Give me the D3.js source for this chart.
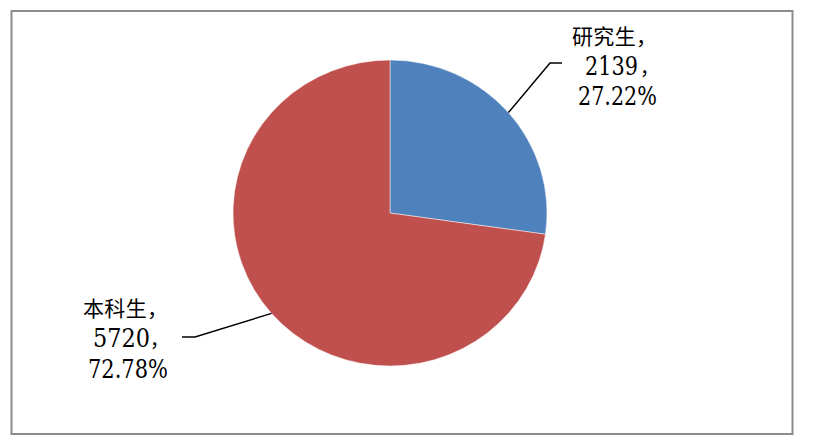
<!DOCTYPE html>
<html><head><meta charset="utf-8">
<script src="https://cdn.jsdelivr.net/npm/d3@7/dist/d3.min.js"></script>
<style>
html,body{margin:0;padding:0;background:#fff;}
svg{display:block;}
.lbl{font-family:"DejaVu Serif","Liberation Serif",serif;fill:#000;}
.cjk{font-family:"Noto Sans CJK SC","Noto Sans CJK JP",sans-serif;fill:#000;}
</style></head>
<body>
<svg id="chart" width="818" height="447"></svg>
<script>
const categories = ["研究生", "本科生"];
const values = [2139, 5720];
const percentLabels = ["27.22%", "72.78%"];
const colors = ["#4F81BD", "#C0504D"];

const svg = d3.select("#chart");
svg.append("rect").attr("x", 11.5).attr("y", 11).attr("width", 781).attr("height", 423)
  .attr("fill", "#fff").attr("stroke", "#8c8c8c").attr("stroke-width", 2);

const cx = 390, cy = 213, ry = 153, rx = 157;
const sx = rx / ry;
const pie = d3.pie().sort(null).value(d => d)(values);
const arc = d3.arc().innerRadius(0).outerRadius(ry);

const g = svg.append("g").attr("transform", `translate(${cx},${cy}) scale(${sx},1)`);
g.selectAll("path").data(pie).join("path")
  .attr("d", arc)
  .attr("fill", (d, i) => colors[i])
  .attr("stroke", "#fff").attr("stroke-width", 0.6).attr("stroke-opacity", 0.8);

// label layout
const labelCfg = [
  { x1: 614.5, w1: 85, numX: 585, numW: 53, commaX: 640, x3: 578, w3: 79,
    y: [44, 75, 105], elbow: [550, 63], end: [562, 63] },
  { x1: 125.5, w1: 85, numX: 93, numW: 57, commaX: 150, x3: 88, w3: 80,
    y: [316, 347, 378], elbow: [195, 337], end: [182, 337] }
];

// horizontally condensed text: scale to fit width w, starting at x
function condensed(str, x, y, w, size) {
  const t = svg.append("text").attr("class", "lbl").style("font-size", size + "px").text(str);
  const natural = t.node().getComputedTextLength();
  t.attr("transform", `translate(${x},${y}) scale(${w / natural},1)`);
  return t;
}

pie.forEach((d, i) => {
  const mid = (d.startAngle + d.endAngle) / 2;
  const px = cx + rx * Math.sin(mid), py = cy - ry * Math.cos(mid);
  const c = labelCfg[i];
  svg.append("polyline")
    .attr("points", [[px, py], c.elbow, c.end].map(p => p.join(",")).join(" "))
    .attr("fill", "none").attr("stroke", "#000").attr("stroke-width", 1.5);

  svg.append("text").attr("class", "cjk")
    .attr("x", c.x1).attr("y", c.y[0]).attr("text-anchor", "middle")
    .attr("textLength", c.w1).attr("lengthAdjust", "spacing")
    .style("font-size", "21px")
    .text(categories[i] + "，");
  condensed(d3.format("d")(values[i]), c.numX, c.y[1], c.numW, 26);
  svg.append("text").attr("class", "cjk")
    .attr("x", c.commaX).attr("y", c.y[1])
    .style("font-size", "19px")
    .text("，");
  condensed(percentLabels[i], c.x3, c.y[2], c.w3, 26);
});
</script>
</body></html>
